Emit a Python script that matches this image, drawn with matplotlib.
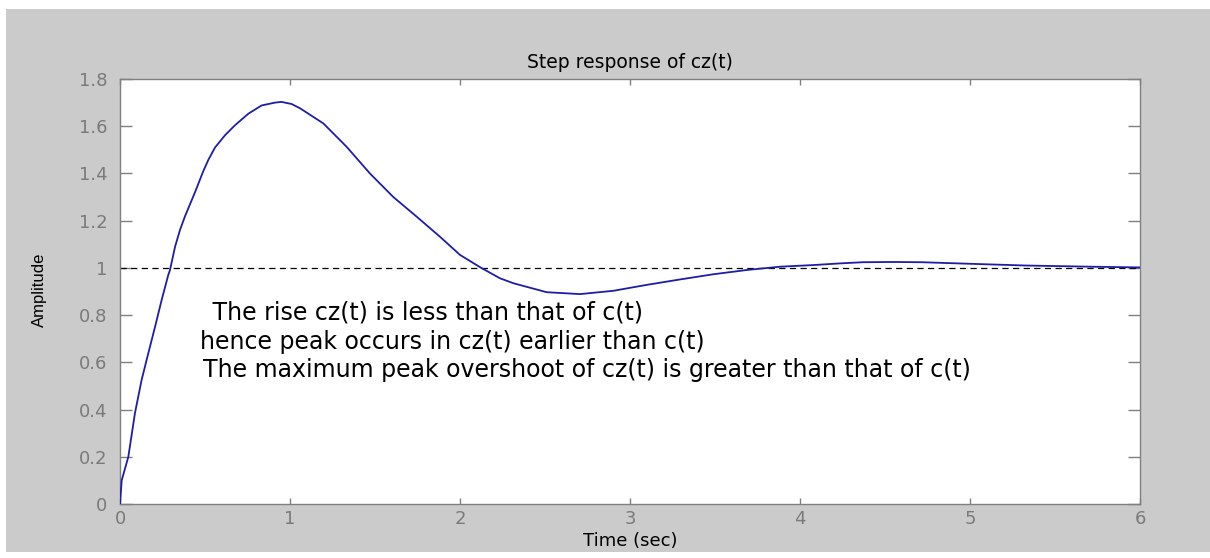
import matplotlib
matplotlib.use("Agg")
import matplotlib.pyplot as plt
from matplotlib.patches import Rectangle

# Step response of cz(t), sampled along the curve
time_s = [0.0, 0.01, 0.049, 0.088, 0.127, 0.167, 0.206, 0.245, 0.284, 0.294,
          0.324, 0.353, 0.382, 0.412, 0.441, 0.471, 0.49, 0.52, 0.559, 0.618,
          0.676, 0.755, 0.833, 0.912, 0.95, 1.01, 1.059,
          1.196, 1.333, 1.47, 1.608, 1.745, 1.882, 2.0, 2.118, 2.235, 2.314,
          2.51, 2.706, 2.902, 3.098, 3.294, 3.49, 3.686, 3.882, 4.078, 4.235,
          4.37, 4.55, 4.716, 5.06, 5.33, 5.71, 6.0]
amplitude = [0.0, 0.10, 0.20, 0.385, 0.525, 0.64, 0.75, 0.864, 0.97, 0.991,
             1.09, 1.161, 1.218, 1.27, 1.32, 1.375, 1.41, 1.458, 1.51, 1.562,
             1.604, 1.653, 1.688, 1.70, 1.703, 1.694, 1.676,
             1.612, 1.513, 1.40, 1.30, 1.217, 1.132, 1.055, 1.003, 0.956, 0.935,
             0.897, 0.889, 0.903, 0.928, 0.951, 0.973, 0.991, 1.005, 1.012, 1.019,
             1.024, 1.025, 1.024, 1.016, 1.01, 1.005, 1.002]
final_value = 1.0

x_ticks = [0, 1, 2, 3, 4, 5, 6]
y_ticks = [0, 0.2, 0.4, 0.6, 0.8, 1, 1.2, 1.4, 1.6, 1.8]
y_tick_labels = ["0", "0.2", "0.4", "0.6", "0.8", "1", "1.2", "1.4", "1.6", "1.8"]

notes = [" The rise cz(t) is less than that of c(t)",
         "hence peak occurs in cz(t) earlier than c(t)",
         "The maximum peak overshoot of cz(t) is greater than that of c(t)"]
note_x = [0.50, 0.47, 0.488]
note_y = [0.81, 0.686, 0.568]

W, H = 1210, 558
fig = plt.figure(figsize=(W / 100, H / 100), dpi=100, facecolor="white")

# grey window panel behind the axes
fig.patches.append(Rectangle((6 / W, 6 / H), (W - 6) / W, (H - 15) / H,
                             transform=fig.transFigure, facecolor="#cbcbcb",
                             edgecolor="none", zorder=-10))

ax = fig.add_axes([120 / W, 54 / H, 1020 / W, 425 / H])
ax.set_zorder(5)
ax.set_facecolor("white")

ax.plot(time_s, amplitude, color="#1d1da6", lw=1.3, zorder=3)
ax.axhline(final_value, color="black", lw=0.9, ls=(0, (5, 3.5)), zorder=2)

ax.set_xlim(0, 6)
ax.set_ylim(0, 1.8)
ax.set_xticks(x_ticks)
ax.set_yticks(y_ticks)
ax.set_yticklabels(y_tick_labels)

grey = "#808080"
for s in ax.spines.values():
    s.set_color(grey)
    s.set_linewidth(1.0)

ax.tick_params(axis="x", direction="in", length=4.5, width=1, color=grey,
               labelcolor="#7a7a7a", labelsize=13, top=True, pad=4)
ax.tick_params(axis="y", direction="in", length=8.5, width=1, color=grey,
               labelcolor="#7a7a7a", labelsize=13, right=True, pad=9)

ax.set_title("Step response of cz(t)", fontsize=13.5, color="black", y=1.007)
ax.set_xlabel("Time (sec)", fontsize=13, color="black")
ax.xaxis.set_label_coords(0.5, -0.066)
ax.set_ylabel("Amplitude", fontsize=12, color="black",
              fontfamily=["Liberation Sans Narrow", "Liberation Sans", "DejaVu Sans"])
ax.yaxis.set_label_coords(-0.0716, 0.504)

for txt, x, y in zip(notes, note_x, note_y):
    ax.text(x, y, txt, fontsize=17, color="black", ha="left", va="center")

fig.savefig("out.png", dpi=100, facecolor="white")
